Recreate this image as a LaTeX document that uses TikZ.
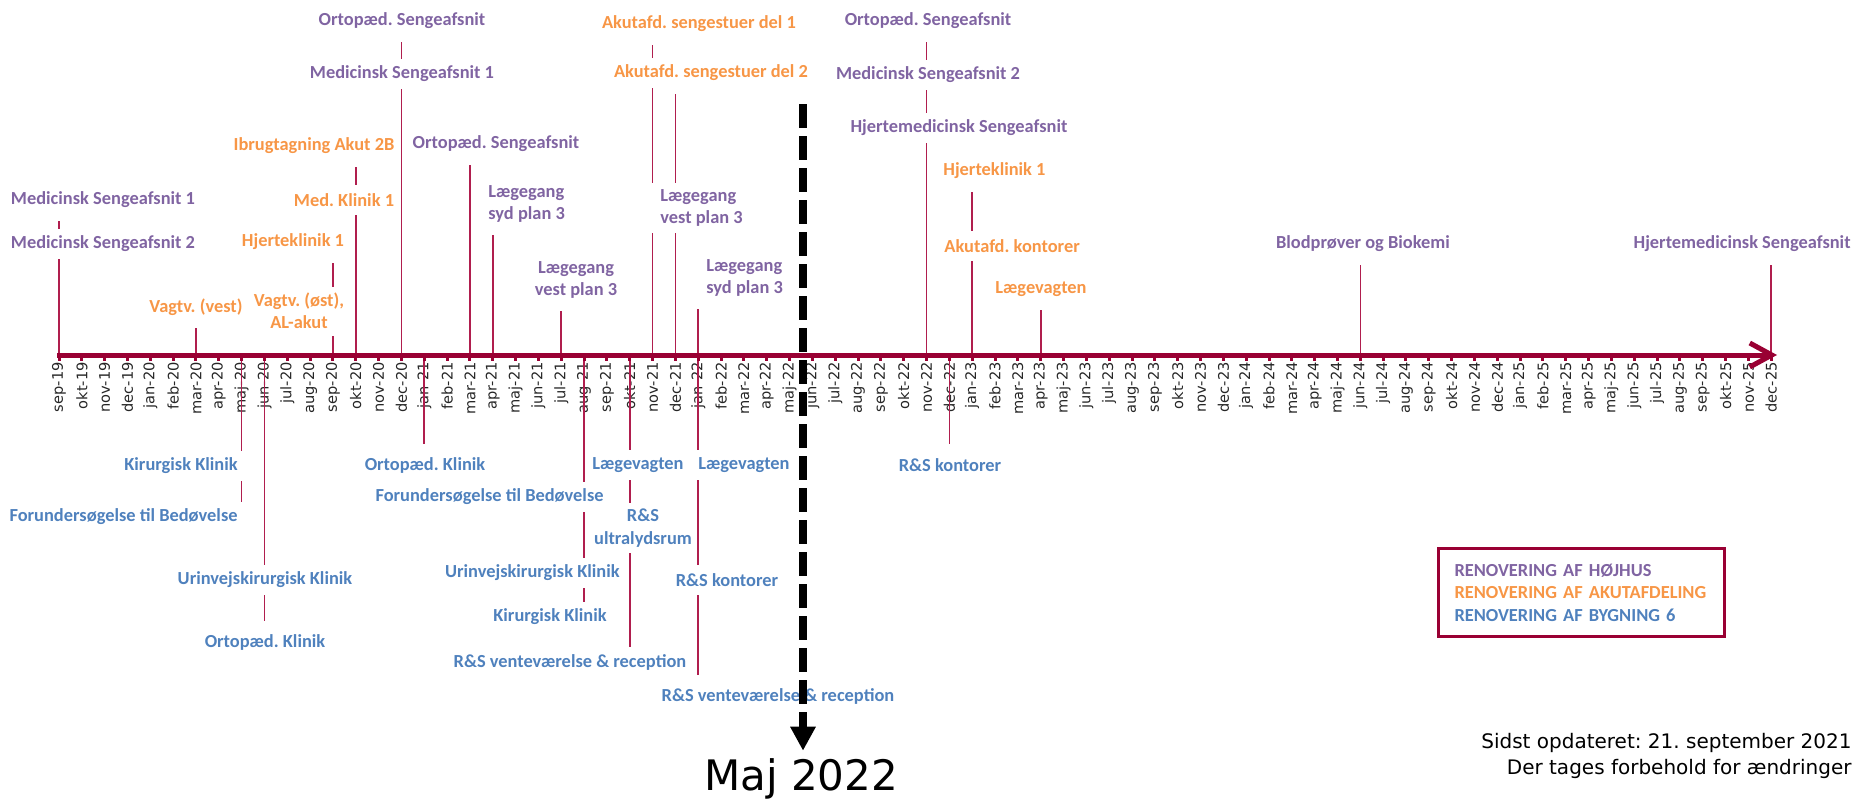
\documentclass[tikz,border=0pt]{standalone}
\usepackage{fontspec}
\usetikzlibrary{arrows.meta}
\newfontfamily\lblfont{Carlito}
\newfontfamily\axfont{DejaVu Sans}
\definecolor{axisred}{HTML}{990033}
\definecolor{stemred}{HTML}{B01E4E}
\definecolor{hojcol}{HTML}{8064A2}
\definecolor{akutcol}{HTML}{F79646}
\definecolor{bygcol}{HTML}{4F81BD}
\definecolor{monthgray}{HTML}{262626}
\newcommand\monthname[1]{\ifcase#1 jan\or feb\or mar\or apr\or maj\or jun\or jul\or aug\or sep\or okt\or nov\or dec\fi}
\frenchspacing

\begin{document}
\begin{tikzpicture}[x=0.5pt,y=-0.5pt,
evt/.style={font=\lblfont\bfseries\fontsize{9.2}{11.2}\selectfont,inner xsep=1pt,inner ysep=3pt,minimum height=15pt},
hoj/.style={evt,text=hojcol},
akut/.style={evt,text=akutcol},
byg/.style={evt,text=bygcol},
stem/.style={draw=stemred,line width=0.8pt},
lead/.style={stem,shorten >=3pt},
axisline/.style={draw=axisred,line width=2.5pt,-{Straight Barb[length=11pt,width=12pt]}},
monthtick/.style={draw=axisred,line width=1.5pt},
mlbl/.style={font=\axfont\fontsize{7.3}{8}\selectfont,text=monthgray,rotate=90,anchor=east,inner sep=0pt},
legendbox/.style={draw=axisred,line width=1.5pt,anchor=north west,font=\lblfont\bfseries\fontsize{9.2}{11.25}\selectfont,align=left,text width=127pt,inner xsep=8pt,minimum height=44pt},
note/.style={font=\axfont\fontsize{10}{13}\selectfont,align=right,anchor=east,inner sep=0pt},
cutline/.style={line width=4pt,dash pattern=on 12pt off 4pt,-{Triangle[length=12pt,width=12pt]}}]
\useasboundingbox (0,0) rectangle (1858,799);

\foreach \i in {0,...,75} {
  \coordinate (m\i) at ({59+22.83*\i},355);
  \pgfmathtruncatemacro\mon{mod(\i+8,12)}
  \pgfmathtruncatemacro\yr{19+int((\i+8)/12)}
  \node[mlbl] (ml\i) at ({59+22.83*\i},362) {\monthname{\mon}-\yr};
}

\node[hoj] (ms1) at (103,200) {Medicinsk Sengeafsnit 1};
\node[hoj] (ms2) at (103,244) {Medicinsk Sengeafsnit 2};
\node[akut] (vagtvest) at (196,307) {Vagtv. (vest)};
\node[akut,align=center] (vagtost) at (299,311) {Vagtv. (øst),\\AL-akut};
\node[akut] (hk1) at (293,242) {Hjerteklinik 1};
\node[akut] (medkl) at (344,200) {Med. Klinik 1};
\node[akut] (akut2b) at (314,146) {Ibrugtagning Akut 2B};
\node[hoj] (ortsa) at (402,21) {Ortopæd. Sengeafsnit};
\node[hoj] (msa) at (402,74) {Medicinsk Sengeafsnit 1};
\node[hoj] (ortsb) at (496,144) {Ortopæd. Sengeafsnit};
\node[hoj,align=left,anchor=west] (lgsyda) at (486,204) {Lægegang\\syd plan 3};
\node[hoj,align=center] (lgvesta) at (576,280) {Lægegang\\vest plan 3};
\node[akut] (akdel1) at (699,24) {Akutafd. sengestuer del 1};
\node[akut] (akdel2) at (711,73) {Akutafd. sengestuer del 2};
\node[hoj,align=left,anchor=west] (lgvestb) at (658,208) {Lægegang\\vest plan 3};
\node[hoj,align=left,anchor=west] (lgsydb) at (704,278) {Lægegang\\syd plan 3};
\node[hoj] (ortsc) at (928,21) {Ortopæd. Sengeafsnit};
\node[hoj] (ms2b) at (928,75) {Medicinsk Sengeafsnit 2};
\node[hoj] (hjms) at (959,128) {Hjertemedicinsk Sengeafsnit};
\node[akut,anchor=west] (hk1b) at (941,171) {Hjerteklinik 1};
\node[akut,anchor=west] (akkont) at (942,246) {Akutafd. kontorer};
\node[akut] (lvagt) at (1041,289) {Lægevagten};
\node[hoj] (blod) at (1363,244) {Blodprøver og Biokemi};
\node[hoj,anchor=east] (hjmsb) at (1853,244) {Hjertemedicinsk Sengeafsnit};

\node[byg,anchor=east] (kirkl) at (240,466) {Kirurgisk Klinik};
\node[byg,anchor=east] (forund) at (240,517) {Forundersøgelse til Bedøvelse};
\node[byg] (urin) at (265,580) {Urinvejskirurgisk Klinik};
\node[byg] (ortkl) at (265,642) {Ortopæd. Klinik};
\node[byg] (ortklb) at (425,465) {Ortopæd. Klinik};
\node[byg,anchor=east] (forundb) at (606,497) {Forundersøgelse til Bedøvelse};
\node[byg,anchor=east] (urinb) at (622,573) {Urinvejskirurgisk Klinik};
\node[byg,anchor=east] (kirklb) at (609,617) {Kirurgisk Klinik};
\node[byg] (lvagta) at (638,465) {Lægevagten};
\node[byg,align=center] (rsultra) at (643,528) {R\&S\\ultralydsrum};
\node[byg] (rsvent) at (570,662) {R\&S venteværelse \& reception};
\node[byg,anchor=west] (lvagtb) at (696,465) {Lægevagten};
\node[byg] (rskont) at (727,580) {R\&S kontorer};
\node[byg] (rsventb) at (778,696) {R\&S venteværelse \& reception};
\node[byg] (rskontb) at (950,465) {R\&S kontorer};

\draw[stem] (m0) -- (m0 |- ms2.south);
\draw[lead] (m0 |- ms2.north) -- (m0 |- ms1.south);
\draw[lead] (m6) -- (m6 |- vagtvest.south);
\draw[stem] (m12) -- (m12 |- vagtost.south);
\draw[lead] (m12 |- vagtost.north) -- (m12 |- hk1.south);
\draw[stem] (m13) -- (m13 |- medkl.south);
\draw[lead] (m13 |- medkl.north) -- (m13 |- akut2b.south);
\draw[stem] (m15) -- (m15 |- msa.south);
\draw[lead] (m15 |- msa.north) -- (m15 |- ortsa.south);
\draw[lead] (m18) -- (m18 |- ortsb.south);
\draw[lead] (m19) -- (m19 |- lgsyda.south);
\draw[lead] (m22) -- (m22 |- lgvesta.south);
\draw[stem] (m26) -- (m26 |- lgvestb.south);
\draw[stem] (m26 |- lgvestb.north) -- (m26 |- akdel2.south);
\draw[lead] (m26 |- akdel2.north) -- (m26 |- akdel1.south);
\draw[stem] (m27) -- (m27 |- lgvestb.south);
\draw[lead] (m27 |- lgvestb.north) -- (m27 |- akdel2.south);
\draw[lead] (m28) -- (m28 |- lgsydb.south);
\draw[stem] (m38) -- (m38 |- hjms.south);
\draw[stem] (m38 |- hjms.north) -- (m38 |- ms2b.south);
\draw[lead] (m38 |- ms2b.north) -- (m38 |- ortsc.south);
\draw[stem] (m40) -- (m40 |- akkont.south);
\draw[lead] (m40 |- akkont.north) -- (m40 |- hk1b.south);
\draw[lead] (m43) -- (m43 |- lvagt.south);
\draw[lead] (m57) -- (m57 |- blod.south);
\draw[lead] (m75) -- (m75 |- hjmsb.south);

\draw[stem] (m8) -- (m8 |- kirkl.north);
\draw[stem] (m8 |- kirkl.south) -- (m8 |- forund.north);
\draw[stem] (m9) -- (m9 |- urin.north);
\draw[lead] (m9 |- urin.south) -- (m9 |- ortkl.north);
\draw[lead] (m16) -- (m16 |- ortklb.north);
\draw[stem] (m23) -- (m23 |- forundb.north);
\draw[stem] (m23 |- forundb.south) -- (m23 |- urinb.north);
\draw[stem] (m23 |- urinb.south) -- (m23 |- kirklb.north);
\draw[stem] (m25) -- (m25 |- lvagta.north);
\draw[stem] (m25 |- lvagta.south) -- (m25 |- rsultra.north);
\draw[stem] (m25 |- rsultra.south) -- (m25 |- rsvent.north);
\draw[stem] (m28) -- (m28 |- lvagtb.north);
\draw[stem] (m28 |- lvagtb.south) -- (m28 |- rskont.north);
\draw[lead] (m28 |- rskont.south) -- (m28 |- rsventb.north);
\draw[lead] (m39) -- (m39 |- rskontb.north);

\coordinate (axisend) at (1777,355);
\foreach \i in {0,...,75} \draw[monthtick] (m\i) -- ++(0,6);
\draw[axisline] ([xshift=-1pt]m0) -- (axisend);

\node[legendbox] (legend) at (1437,547) {\textcolor{hojcol}{RENOVERING AF HØJHUS}\\\textcolor{akutcol}{RENOVERING AF AKUTAFDELING}\\\textcolor{bygcol}{RENOVERING AF BYGNING 6}};
\node[note] (note) at (1852,756) {Sidst opdateret: 21. september 2021\\Der tages forbehold for ændringer};

\node[font=\axfont\fontsize{21}{25}\selectfont,anchor=base,inner sep=0pt] (maj) at (801,790) {Maj 2022};
\coordinate (cuttop) at (803,104);
\draw[cutline,shorten >=3.5pt] (cuttop) -- (cuttop |- maj.north);
\end{tikzpicture}
\end{document}
